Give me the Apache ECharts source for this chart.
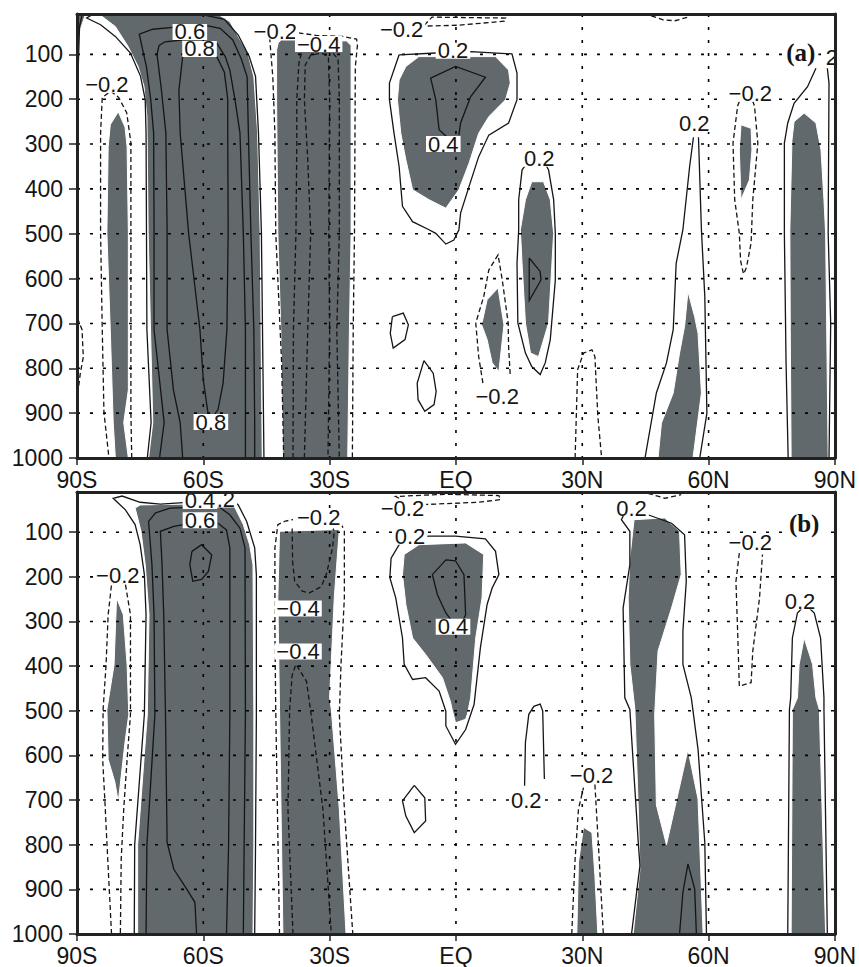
<!DOCTYPE html>
<html><head><meta charset="utf-8">
<script src="https://cdn.jsdelivr.net/npm/echarts@6/dist/echarts.min.js"></script>
<style>html,body{margin:0;padding:0;background:#fff}#c{width:859px;height:967px}</style>
</head><body><div id="c"></div>
<script>
// ---------- axes ----------
const xTickValues = [-90, -60, -30, 0, 30, 60, 90];
const xTickLabels = ['90S', '60S', '30S', 'EQ', '30N', '60N', '90N'];
const yTickValues = [100, 200, 300, 400, 500, 600, 700, 800, 900, 1000];
const xGridValues = [-60, -30, 0, 30, 60];
const yGridValues = [100, 200, 300, 400, 500, 600, 700, 800, 900];

// ---------- panel (a): shaded regions [lat, hPa] ----------
const a_shade_corner = [[-90,11],[-88.0,11],[-89.4,50],[-90,55]];
const a_shade_80S = [[-80.2,228],[-78.6,262],[-78.1,306],[-77.8,498],[-77.8,848],[-78.9,921],[-77.8,1000],[-80.9,1000],[-81.4,921],[-82.1,714],[-82.9,498],[-82.6,306],[-82.1,257]];
const a_shade_60S = [[-84.4,13],[-80.9,38],[-77.9,82],[-75.5,127],[-74.1,171],[-73.4,239],[-73.1,498],[-72.0,921],[-73.0,1000],[-46.0,1000],[-46.5,498],[-47.1,275],[-48.0,150],[-49.4,98],[-51.7,60],[-53.7,27],[-56.1,13]];
const a_shade_30S = [[-42.6,90],[-42.2,74],[-41.5,68],[-37,68],[-26,70],[-24.9,80],[-24.9,498],[-25.3,714],[-25.7,1000],[-41.1,1000],[-41.6,714],[-42.3,498],[-42.6,201]];
const a_shade_EQ = [[-11.9,127],[-8.8,105],[9.4,105],[12.5,135],[12.9,164],[11.8,201],[7.8,239],[5.4,276],[3.1,343],[0.7,402],[-2.4,443],[-6.4,424],[-10.3,402],[-11.9,335],[-13.1,276],[-13.9,201],[-13.5,157]];
const a_shade_10N = [[10.0,621],[11.4,703],[10.2,807],[8.6,788],[7.4,736],[6.1,703],[7.4,647]];
const a_shade_20N = [[18.0,384],[20.8,384],[22.4,424],[23.2,499],[22.0,699],[19.6,774],[17.7,766],[16.5,699],[15.7,566],[15.3,491],[16.5,424]];
const a_shade_55N = [[55.1,629],[56.7,685],[57.5,722],[58.3,855],[56.3,1000],[48.0,1000],[48.8,922],[51.6,855],[53.1,766],[54.3,706]];
const a_shade_70N = [[67.7,257],[70.1,265],[70.3,313],[69.7,380],[67.7,424],[67.3,313]];
const a_shade_85N = [[80.3,250],[82.7,231],[85.5,253],[86.7,313],[87.4,424],[87.8,499],[88.4,1000],[79.6,1000],[79.4,714],[79.3,491],[79.8,291]];

// ---------- panel (a): positive (solid) contours ----------
const a_pos_corner = [[-88.8,12],[-89.4,38],[-89.7,128],[-90,173]];
const a_pos_60S_02 = [[-73.3,1000],[-72.4,921],[-73.4,714],[-73.5,491],[-73.6,275],[-73.8,201],[-74.9,149],[-77.3,97],[-80.9,60],[-84.4,34],[-87.7,19],[-86.5,12],[-60,12],[-55,22],[-51.7,57],[-49.1,105],[-47.6,149],[-46.9,275],[-46.2,498],[-45.6,1000]];
const a_pos_60S_04a = [[-70.4,1000],[-69.3,921],[-71.7,714],[-71.7,491],[-71.8,275],[-72.5,200],[-73.5,128],[-74.4,90],[-75.2,55],[-72,44],[-67.2,40]];
const a_pos_60S_04b = [[-59.2,36],[-56,42],[-53,68],[-51,110],[-49.6,150],[-49.3,275],[-48.7,498],[-48.0,714],[-47.8,921],[-47.8,1000]];
const a_pos_60S_06a = [[-64.9,1000],[-65.5,921],[-67.1,848],[-68.6,714],[-68.6,491],[-68.9,275],[-70.0,175],[-71.0,100],[-70.5,80],[-69.1,72],[-65.1,68]];
const a_pos_60S_06b = [[-56.8,75],[-54.8,105],[-53.7,135],[-52.5,200],[-51.3,275],[-50.5,498],[-50.0,714],[-50.0,1000]];
const a_pos_60S_08 = [[-57.5,905],[-56.5,892],[-55.3,833],[-54.4,714],[-54.1,498],[-54.2,275],[-54.2,200],[-55.0,140],[-56.8,105],[-60,100],[-64.9,105],[-65.8,180],[-65.5,275],[-63.5,498],[-60.8,714],[-60.0,826],[-59.2,880],[-58.8,905]];
const a_pos_EQ_02 = [[-13.5,101],[-4.8,97],[3.5,94],[13.3,99],[14.5,142],[14.5,201],[12.5,253],[7.8,280],[5.4,328],[3.1,395],[1.1,454],[0.7,491],[-0.5,514],[-2.4,523],[-4.8,499],[-6.4,491],[-10.3,473],[-12.7,439],[-13.5,350],[-14.7,276],[-15.8,201],[-15.8,164],[-13.5,101]];
const a_pos_EQ_04 = [[-1.5,290],[-4.0,268],[-4.8,201],[-6.0,153],[-0.1,127],[7.0,151],[3.5,194],[1.1,253],[0.7,280]];
const a_pos_loop1 = [[-15.1,685],[-12.5,677],[-11.3,703],[-12.1,736],[-14.9,755],[-15.6,722],[-15.1,685]];
const a_pos_loop2 = [[-7.6,783],[-5.4,811],[-4.7,852],[-5.2,881],[-7.4,896],[-9.0,870],[-9.2,833],[-7.6,783]];
const a_pos_20N_02 = [[21,340],[22.0,358],[23.2,424],[23.6,499],[23.6,603],[22.4,736],[21.2,788],[20.0,814],[18.0,796],[16.5,766],[14.7,699],[14.5,566],[14.9,491],[14.9,424],[15.7,358],[17,340]];
const a_pos_20N_04 = [[17.4,554],[20.0,584],[20.2,603],[17.4,649],[17.4,554]];
const a_pos_55N_a = [[44.9,1000],[47.6,855],[50.0,788],[51.6,714],[52.3,566],[53.9,491],[55.5,350],[56.4,285]];
const a_pos_55N_b = [[57.6,285],[58.3,491],[59.1,640],[59.6,900],[57.9,1000]];
const a_pos_85N_a = [[78.9,1000],[78.4,788],[78.0,499],[78.0,298],[78.8,253],[80.3,209],[83.5,172],[85.5,131]];
const a_pos_85N_b = [[88.2,131],[88.6,164],[88.4,499],[89.0,700],[88.6,1000]];

// ---------- panel (a): negative (dashed) contours ----------
const a_neg_edge = [[-89.9,688],[-88.8,714],[-88.5,775],[-89.2,810],[-89.9,863]];
const a_neg_80S = [[-77.0,1000],[-77.2,899],[-77.2,498],[-77.2,297],[-78.2,230],[-80.1,196],[-82,182],[-84.0,196],[-84.4,275],[-84.4,498],[-84.0,714],[-83.6,899],[-82.4,1000]];
const a_neg_30S_02a = [[-40.9,1000],[-41.4,788],[-42.8,498],[-43.0,275],[-43.5,150],[-44.2,68],[-44.5,56]];
const a_neg_30S_02b = [[-37.4,52],[-33,58],[-27,60],[-23.6,66],[-23.4,80],[-23.9,128],[-24.1,498],[-24.4,714],[-24.6,1000]];
const a_neg_30S_04a = [[-38.7,1000],[-38.6,714],[-38.0,498],[-37.8,300],[-37.8,200],[-37.3,120],[-36.5,90]];
const a_neg_30S_04b = [[-30.5,85],[-28.0,110],[-27.7,200],[-27.7,498],[-28.3,714],[-27.7,1000]];
const a_neg_30S_06 = [[-36.0,1000],[-35.2,714],[-34.5,498],[-35.2,335],[-36.0,201],[-35.8,124],[-34.5,102],[-32,97],[-30.3,105],[-30.0,200],[-30.2,498],[-30.0,714],[-30.4,1000]];
const a_neg_top = [[-7.5,35],[-5.7,17],[11.8,19],[11.5,26],[0.7,35],[-7.5,37]];
const a_neg_top2 = [[46.4,14],[49.2,23],[52.0,25],[55.6,16]];
const a_neg_10N = [[6.4,833],[5.4,774],[4.7,699],[6.6,640],[7.8,581],[10.0,547],[11.0,603],[12.4,699],[12.5,751],[12.9,818]];
const a_neg_30N = [[28.3,1000],[28.9,803],[30.3,766],[32.3,759],[33.0,774],[33.7,907],[34.6,1000]];
const a_neg_70N = [[67.3,205],[66.9,215],[65.8,298],[66.2,424],[67.3,499],[67.6,560],[68.3,590],[69.0,575],[70.1,520],[70.5,424],[71.7,298],[70.9,215],[70.5,205]];

// ---------- panel (a): contour labels [text, lat, hPa] ----------
const a_labels = [['0.6',-63.2,50],['0.8',-60.9,88],['0.8',-58.2,920],['−0.2',-82.9,168],['−0.2',-42.9,49],['−0.4',-32.6,77],['−0.2',-12.9,44],['0.2',-0.7,92],['0.4',-3.0,300],['0.2',19.8,333],['−0.2',9.8,863],['0.2',56.6,255],['−0.2',69.9,188],['2',89.3,107]];
const a_title = ['(a)', 81.9, 96];

// ---------- panel (b): shaded regions ----------
const b_shade_60S = [[-76.2,46],[-75,39],[-53,35],[-50.5,83],[-49,128],[-48.2,173],[-48,508],[-48.0,800],[-48.2,1000],[-75.6,1000],[-75.6,800],[-73.3,508],[-72.9,285],[-73.8,173],[-74.8,98]];
const b_shade_80S = [[-80.6,247],[-79.0,285],[-78.1,397],[-77.7,508],[-78.6,571],[-80.2,705],[-81.0,660],[-82.6,609],[-82.9,497],[-81.2,397],[-80.9,321]];
const b_shade_30S = [[-41.9,98],[-27.7,94],[-28.9,247],[-30.0,471],[-29.6,497],[-27.7,720],[-26.1,1000],[-41.1,1000],[-41.9,497],[-42.3,247]];
const b_shade_EQ = [[-12.3,150],[-8.8,128],[2.3,124],[6.6,150],[6.2,247],[4.7,337],[3.5,471],[2.7,508],[2.3,519],[-0.1,527],[-0.9,497],[-1.3,480],[-3.2,426],[-7.2,374],[-10.3,337],[-11.9,262],[-12.7,195]];
const b_shade_30N = [[30.3,761],[32.3,773],[33.0,869],[33.7,1000],[28.7,1000],[29.1,839]];
const b_shade_50N = [[42.3,72],[49.6,68],[53.1,98],[53.5,195],[51.2,270],[48.0,366],[47.2,508],[47.6,711],[50.0,800],[55.1,587],[57.5,698],[58.7,1000],[42.1,1000],[43.7,855],[43.3,720],[42.5,497],[41.3,396],[40.9,247],[41.3,158]];
const b_shade_85N = [[82.7,337],[84.7,396],[85.5,471],[86.3,497],[87.8,1000],[79.6,1000],[79.9,497],[81.1,471],[81.5,396]];

// ---------- panel (b): positive contours ----------
const b_pos_60S_02a = [[-76.4,1000],[-76.3,800],[-74.0,508],[-73.6,285],[-74.0,195],[-75.0,128],[-76.2,83],[-78.5,50],[-81.4,24],[-79.3,19],[-75.0,33],[-70.2,37],[-64.7,34]];
const b_pos_60S_02b = [[-53.7,24],[-51.7,39],[-49.7,76],[-47.8,135],[-47.4,195],[-47.4,508],[-47.6,800],[-47.8,1000]];
const b_pos_60S_04a = [[-73.6,1000],[-73.4,800],[-71.5,508],[-71.7,285],[-72.2,173],[-73.0,76],[-71.4,57],[-67.9,46],[-64.7,45]];
const b_pos_60S_04b = [[-56.5,42],[-53.7,61],[-51.3,91],[-50.1,135],[-50.0,508],[-50.3,800],[-50.5,1000]];
const b_pos_60S_06a = [[-61.6,1000],[-62.0,929],[-63.9,900],[-67.0,855],[-68.6,795],[-69.0,497],[-69.4,285],[-69.8,173],[-70.2,98],[-67.0,87],[-64.7,83]];
const b_pos_60S_06b = [[-56.5,80],[-54.5,95],[-53.7,135],[-53.7,508],[-54.0,800],[-54.5,1000]];
const b_pos_60S_08 = [[-62.7,143],[-60.4,128],[-58.0,151],[-58.8,188],[-60.4,206],[-62.5,210],[-63.2,173],[-62.7,143]];
const b_pos_EQ_02 = [[-12,115],[-6.4,109],[-0.1,109],[7.0,115],[9.4,143],[10.2,195],[8.6,225],[7.4,262],[5.8,359],[4.3,486],[3.9,497],[2.3,542],[-0.1,575],[-2.4,534],[-2.4,501],[-4.0,456],[-7.2,426],[-10.3,430],[-12.3,396],[-12.7,337],[-14.3,247],[-15.7,202],[-15.4,158],[-13.5,128],[-12,115]];
const b_pos_EQ_04 = [[1.5,300],[2.3,285],[1.9,195],[-0.1,164],[-2.4,162],[-5.6,195],[-4.4,240],[-2.4,281],[-0.9,300]];
const b_pos_loop = [[-9.9,667],[-7.4,695],[-7.2,747],[-9.9,773],[-11.9,736],[-12.7,702],[-9.9,667]];
const b_pos_20N = [[16.3,668],[16.5,571],[17.3,508],[18.5,490],[20.0,485],[20.6,500],[21.0,653]];
const b_pos_50N_a = [[41.7,1000],[42.9,907],[43.7,847],[43.3,795],[41.3,497],[40.1,471],[39.7,270],[41.3,173],[41.3,98],[39.3,72],[40.0,58]];
const b_pos_50N_b = [[43.5,52],[45.6,61],[51.2,80],[54.3,106],[54.7,210],[53.9,322],[53.9,396],[55.9,471],[57.5,587],[59.1,795],[59.5,1000]];
const b_pos_50N_04 = [[53.1,1000],[53.9,907],[55.1,843],[56.7,899],[57.1,1000]];
const b_pos_85N = [[78.8,1000],[79.2,497],[79.5,471],[79.9,337],[81.1,281],[83,262],[85.1,281],[86.6,337],[87.4,471],[87.4,497],[88.2,1000]];

// ---------- panel (b): negative contours ----------
const b_neg_80S = [[-81.8,1000],[-82.9,795],[-83.4,698],[-83.9,609],[-83.8,497],[-83.1,397],[-82.6,285],[-81.8,217],[-80.5,205],[-78.5,217],[-77.3,285],[-77.3,508],[-78.1,609],[-78.9,720],[-79.5,832],[-79.7,1000]];
const b_neg_30S_02a = [[-41.9,1000],[-42.8,497],[-43.0,321],[-43.0,135],[-42.3,83],[-40.5,75],[-38.7,72]];
const b_neg_30S_02b = [[-27.3,80],[-26.5,98],[-26.5,247],[-27.3,396],[-27.7,508],[-26.5,720],[-24.5,1000]];
const b_neg_30S_U = [[-38.9,92],[-38.8,165],[-38.3,210],[-36.5,232],[-34.8,236],[-32,222],[-30.8,195],[-29.3,135],[-28.9,98],[-29.2,92]];
const b_neg_30S_inv = [[-38.7,1000],[-39.9,720],[-39.5,497],[-38.9,420],[-38,396],[-35.5,434],[-34.4,508],[-31.6,720],[-29.6,1000]];
const b_neg_top = [[-13.5,24],[-14.3,20],[-2.4,15],[10.2,18],[10.6,27],[5.4,33],[-4.8,37],[-7.5,38]];
const b_neg_top2 = [[45.6,13],[49.6,24],[53.5,16]];
const b_neg_30N_a = [[27.5,1000],[28.3,832],[29.1,720],[30.3,672]];
const b_neg_30N_b = [[33.0,665],[33.8,795],[35.0,1000]];
const b_neg_70N = [[67.3,147],[66.5,210],[66.9,322],[67.3,445],[70.1,437],[70.5,366],[72.1,247],[72.8,150]];

// ---------- panel (b): labels ----------
const b_labels = [['0.2',-56.1,27],['0.4',-60.8,30],['0.6',-60.8,73],['−0.2',-80.3,197],['−0.2',-32.6,68],['−0.4',-37.5,271],['−0.4',-37.5,367],['−0.2',-12.7,48],['0.2',-10.9,110],['0.4',-0.7,312],['0.2',16.7,702],['−0.2',32.2,644],['0.2',41.7,46],['−0.2',69.9,123],['0.2',81.7,255]];
const b_title = ['(b)', 82.7, 80];

// ---------- groups ----------
const panels = [
  { shade: [a_shade_corner,a_shade_80S,a_shade_60S,a_shade_30S,a_shade_EQ,a_shade_10N,a_shade_20N,a_shade_55N,a_shade_70N,a_shade_85N],
    pos: [a_pos_corner,a_pos_60S_02,a_pos_60S_04a,a_pos_60S_04b,a_pos_60S_06a,a_pos_60S_06b,a_pos_60S_08,a_pos_EQ_02,a_pos_EQ_04,a_pos_loop1,a_pos_loop2,a_pos_20N_02,a_pos_20N_04,a_pos_55N_a,a_pos_55N_b,a_pos_85N_a,a_pos_85N_b],
    neg: [a_neg_edge,a_neg_80S,a_neg_30S_02a,a_neg_30S_02b,a_neg_30S_04a,a_neg_30S_04b,a_neg_30S_06,a_neg_top,a_neg_top2,a_neg_10N,a_neg_30N,a_neg_70N],
    labels: a_labels, title: a_title },
  { shade: [b_shade_60S,b_shade_80S,b_shade_30S,b_shade_EQ,b_shade_30N,b_shade_50N,b_shade_85N],
    pos: [b_pos_60S_02a,b_pos_60S_02b,b_pos_60S_04a,b_pos_60S_04b,b_pos_60S_06a,b_pos_60S_06b,b_pos_60S_08,b_pos_EQ_02,b_pos_EQ_04,b_pos_loop,b_pos_20N,b_pos_50N_a,b_pos_50N_b,b_pos_50N_04,b_pos_85N],
    neg: [b_neg_80S,b_neg_30S_02a,b_neg_30S_02b,b_neg_30S_U,b_neg_30S_inv,b_neg_top,b_neg_top2,b_neg_30N_a,b_neg_30N_b,b_neg_70N],
    labels: b_labels, title: b_title }
];

const GRAY = '#62696c';
const INK = '#151515';
const FONT = 'Liberation Sans, Arial, sans-serif';

function shadeSeries(shapes, ai) {
  return { type:'custom', xAxisIndex: ai*2, yAxisIndex: ai*2, clip:true, z:1, silent:true, animation:false,
    data: shapes.map(s => s[0]),
    renderItem: (params, api) => ({ type:'polygon',
      shape:{ points: shapes[params.dataIndex].map(p => api.coord(p)) },
      style:{ fill: GRAY, stroke:'#fff', lineWidth:1 } }) };
}
function lineSeries(lines, dashed, ai) {
  return { type:'custom', xAxisIndex: ai*2, yAxisIndex: ai*2, clip:true, z:3, silent:true, animation:false,
    data: lines.map(s => s[0]),
    renderItem: (params, api) => ({ type:'polyline',
      shape:{ points: lines[params.dataIndex].map(p => api.coord(p)) },
      style:{ stroke: INK, lineWidth:1.3, fill:null, lineDash: dashed ? [5,3] : null } }) };
}
function gridSeries(ai) {
  return { type:'custom', xAxisIndex: ai*2, yAxisIndex: ai*2, clip:true, z:2, silent:true, animation:false,
    data: [[0, 500]],
    renderItem: (params, api) => {
      const ch = [];
      const st = { stroke:'#000', lineWidth:1.6, lineDash:[3,10] };
      xGridValues.forEach(x => { const a = api.coord([x,10]), b = api.coord([x,1000]);
        ch.push({ type:'line', shape:{x1:a[0],y1:a[1],x2:b[0],y2:b[1]}, style:st }); });
      yGridValues.forEach(y => { const a = api.coord([-90,y]), b = api.coord([90,y]);
        ch.push({ type:'line', shape:{x1:a[0],y1:a[1],x2:b[0],y2:b[1]}, style:st }); });
      return { type:'group', children: ch };
    } };
}
function labelSeries(labels, title, ai) {
  const all = labels.concat([title]);
  return { type:'custom', xAxisIndex: ai*2, yAxisIndex: ai*2, clip:false, z:4, silent:true, animation:false,
    data: all.map(l => [l[1], l[2]]),
    renderItem: (params, api) => {
      const l = all[params.dataIndex];
      const pt = api.coord([l[1], l[2]]);
      const isTitle = params.dataIndex === all.length - 1;
      return { type:'text', x: pt[0], y: pt[1],
        style: isTitle ? { text:l[0], fontSize:25, fontWeight:'bold', fontFamily:'Liberation Serif, Times New Roman, serif', fill:INK, align:'center', verticalAlign:'middle', backgroundColor:'#fff', padding:[0,3], lineHeight:22 }
                       : { text:l[0], fontSize:22, fontFamily:FONT, fill:INK, align:'center', verticalAlign:'middle', backgroundColor:'#fff', padding:[0,2], lineHeight:16 } };
    } };
}

const axisLineStyle = { color:'#222', width:3 };
const xAxes = [], yAxes = [], grids = [
  { left:77, top:14, width:761, height:444 },
  { left:77, top:492, width:761, height:443 }
];
[0,1].forEach(g => {
  xAxes.push({ gridIndex:g, type:'value', min:-90, max:90, interval:30, position:'bottom', z:10,
    axisLine:{ onZero:false, lineStyle:axisLineStyle },
    axisTick:{ show:true, length:7, lineStyle:{ color:'#222', width:1.5 } },
    axisLabel:{ fontSize:23, fontFamily:FONT, color:INK, margin:10, showMinLabel:true, showMaxLabel:true,
      formatter: v => { const i = xTickValues.indexOf(Math.round(v)); return i >= 0 ? xTickLabels[i] : ''; } },
    splitLine:{ show:false } });
  xAxes.push({ gridIndex:g, type:'value', min:-90, max:90, interval:30, position:'top', z:10,
    axisLine:{ onZero:false, lineStyle:axisLineStyle }, axisTick:{ show:false }, axisLabel:{ show:false }, splitLine:{ show:false } });
  yAxes.push({ gridIndex:g, type:'value', inverse:true, min:10, max:1000, position:'left', z:10,
    axisLine:{ onZero:false, lineStyle:axisLineStyle },
    axisTick:{ show:true, length:8, customValues: yTickValues, lineStyle:{ color:'#222', width:1.5 } },
    axisLabel:{ customValues: yTickValues, fontSize:23, fontFamily:FONT, color:INK, margin:14, formatter: v => String(Math.round(v)) },
    splitLine:{ show:false } });
  yAxes.push({ gridIndex:g, type:'value', inverse:true, min:10, max:1000, position:'right', z:10,
    axisLine:{ onZero:false, lineStyle:axisLineStyle }, axisTick:{ show:false }, axisLabel:{ show:false }, splitLine:{ show:false } });
});

const series = [];
panels.forEach((p, i) => {
  series.push(shadeSeries(p.shade, i));
  series.push(gridSeries(i));
  series.push(lineSeries(p.pos, false, i));
  series.push(lineSeries(p.neg, true, i));
  series.push(labelSeries(p.labels, p.title, i));
});

const chart = echarts.init(document.getElementById('c'), null, { renderer:'svg', width:859, height:967 });
chart.setOption({ backgroundColor:'#fff', animation:false, grid:grids, xAxis:xAxes, yAxis:yAxes, series });
</script></body></html>
